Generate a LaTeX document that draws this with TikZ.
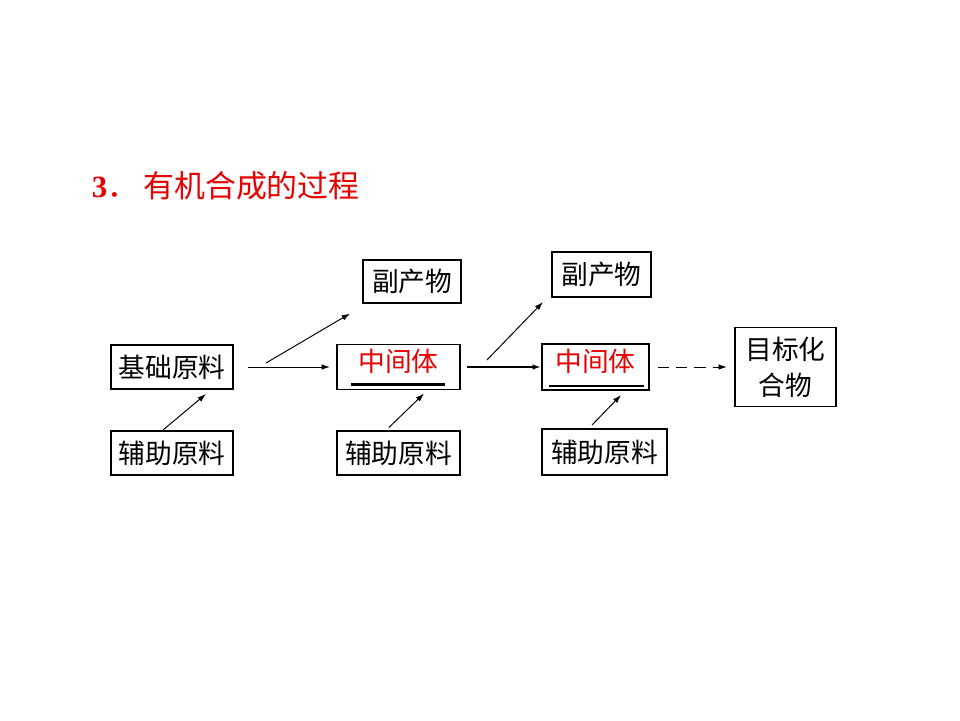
\documentclass[tikz,border=0pt]{standalone}
\usepackage{fontspec}
\setmainfont{Liberation Serif}
\newfontfamily\cjk{Noto Sans CJK SC}
\usetikzlibrary{arrows.meta, positioning}
\definecolor{titlered}{RGB}{232,0,0}

\begin{document}
\begin{tikzpicture}[
    node distance=1cm and 2.5cm,
    box/.style={rectangle, draw, line width=1.4pt, inner sep=0pt, align=center, font=\cjk\fontsize{19pt}{25.6pt}\selectfont},
    midbox/.style={box, text=titlered, minimum width=3.075cm, minimum height=1.125cm},
    arrow/.style={-{Latex[length=6pt,width=4pt]}, line width=0.7pt},
    uline/.style={line width=1.6pt}
]
\useasboundingbox (0,0) rectangle (24,-18);

% Title
\node[anchor=west, text=titlered, font=\fontsize{22pt}{26pt}\selectfont] (title) at (2.175,-4.65) {\textbf{3}\cjk．\hspace{3.5pt}有机合成的过程};

% Nodes
\node[box, minimum width=3.05cm, minimum height=1.1cm] (base) at (4.3,-9.175) {基础原料};
\node[box, minimum width=3.05cm, minimum height=1.1cm, below=of base] (aux1) {辅助原料};
\node[midbox, right=2.55cm of base] (mid1) {\raisebox{9pt}{中间体}};
\node[box, minimum width=3.075cm, minimum height=1.1cm, below=of mid1] (aux2) {辅助原料};
\node[box, minimum width=2.45cm, minimum height=1.075cm, above=1cm of mid1, xshift=3.4mm] (by1) {副产物};
\node[midbox, minimum width=2.675cm, minimum height=1.15cm, right=2cm of mid1] (mid2) {\raisebox{9pt}{中间体}};
\node[box, minimum width=2.475cm, minimum height=1.125cm, above=1.125cm of mid2, xshift=1.5mm] (by2) {副产物};
\node[box, minimum width=3.125cm, minimum height=1.15cm, below=0.925cm of mid2, xshift=2.25mm] (aux3) {辅助原料};
\node[box, minimum width=2.525cm, minimum height=1.975cm, right=2.1cm of mid2] (target) {目标化\\合物};

% Underlines
\draw[uline] ([xshift=3.75mm, yshift=1.5mm]mid1.south west) -- ([xshift=-4mm, yshift=1.5mm]mid1.south east);
\draw[uline] ([xshift=2mm, yshift=1.25mm]mid2.south west) -- ([xshift=-1.5mm, yshift=1.25mm]mid2.south east);

% Branch points
\coordinate (fork1) at ([xshift=8mm, yshift=1mm]base.east);
\coordinate (fork2) at ([xshift=6.5mm, yshift=1.75mm]mid1.east);

% Arrows
\draw[arrow, shorten <=3.5mm, shorten >=1.5mm] (base.east) -- (base.east -| mid1.west);
\draw[arrow] (fork1) -- ([xshift=-3mm, yshift=-2.5mm]by1.south west);
\draw[arrow] ([xshift=-2.25mm]aux1.north) -- ([xshift=8.5mm, yshift=-1mm]base.south);
\draw[arrow] ([xshift=-2.4mm, yshift=0.75mm]aux2.north) -- ([xshift=6.4mm, yshift=-0.75mm]mid1.south);
\draw[arrow, line width=1.4pt, shorten <=1.5mm] (mid1.east) -- (mid1.east -| mid2.west);
\draw[arrow] (fork2) -- ([xshift=-2mm, yshift=-1mm]by2.south west);
\draw[arrow] ([xshift=-3.1mm, yshift=0.75mm]aux3.north) -- ([xshift=6.4mm, yshift=-1mm]mid2.south);
\draw[arrow, dashed, dash pattern=on 8pt off 5pt, shorten <=2mm, shorten >=1.75mm] (mid2.east) -- (mid2.east -| target.west);

\end{tikzpicture}
\end{document}
